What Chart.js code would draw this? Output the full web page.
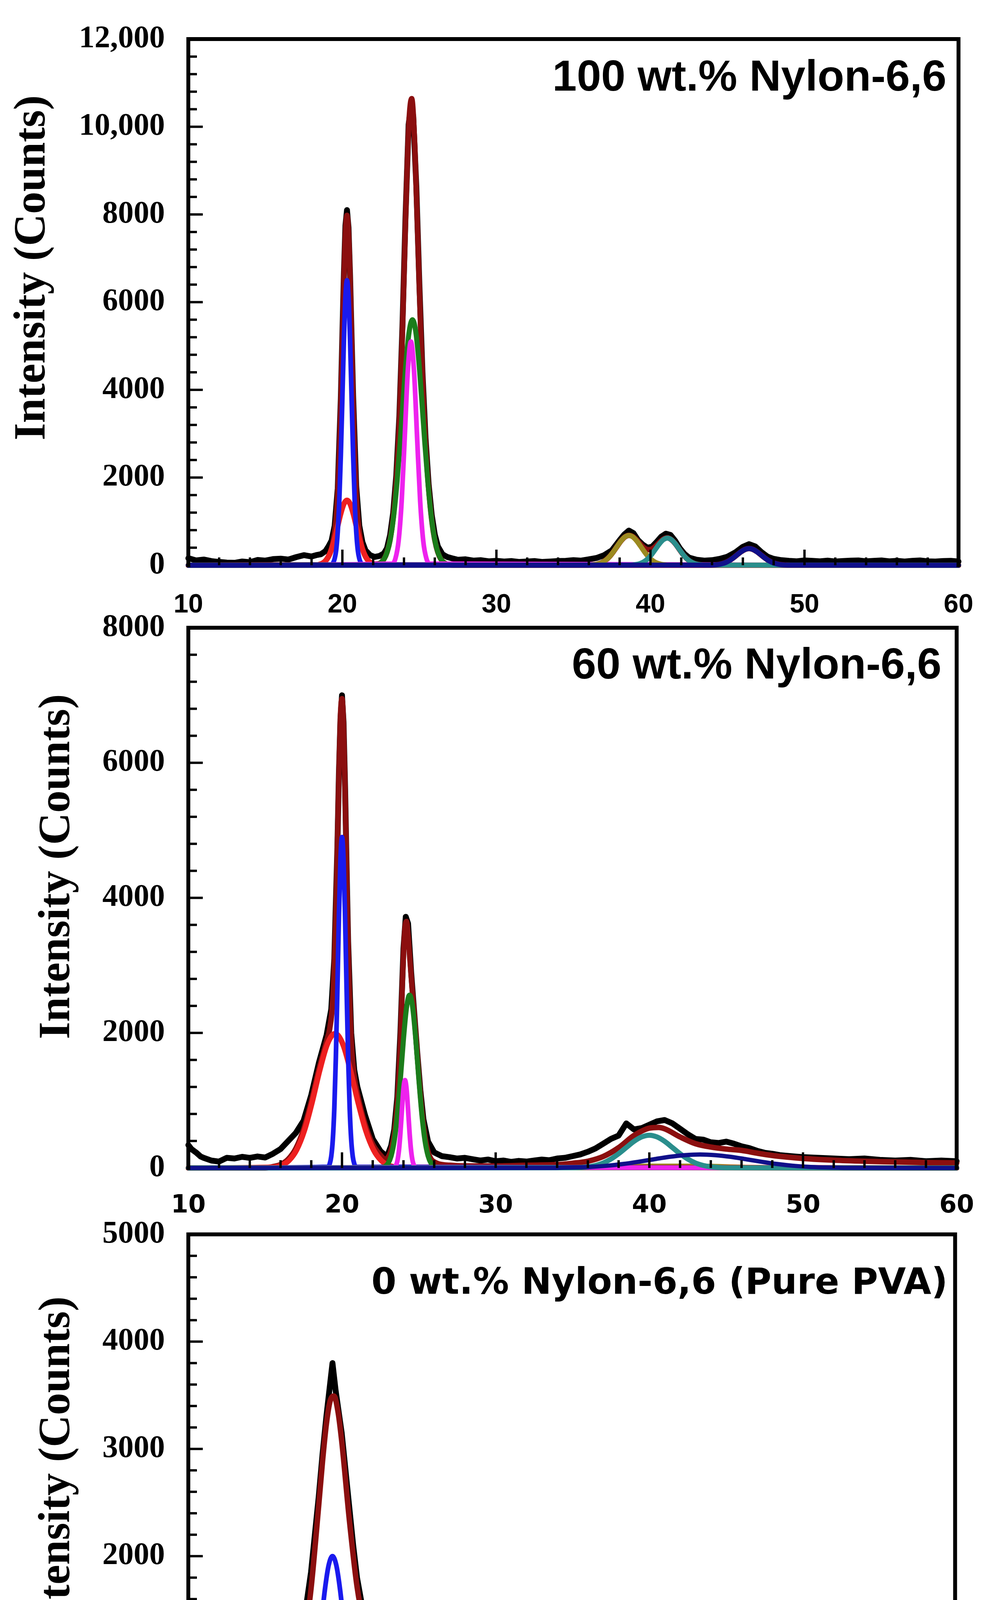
<!DOCTYPE html>
<html>
<head>
<meta charset="utf-8">
<script src="https://cdn.jsdelivr.net/npm/chart.js@4.4.1/dist/chart.umd.min.js"></script>
<style>
  body { margin: 0; background: #fff; }
  #page { position: relative; width: 2544px; height: 4888px; background: #fff; overflow: hidden; }
  #page canvas { position: absolute; left: 0; }
</style>
</head>
<body>
<div id="page">
  <canvas id="panel1" width="2544" height="1660" style="top:0px"></canvas>
  <canvas id="panel2" width="2544" height="1660" style="top:1500px"></canvas>
  <canvas id="panel3" width="2544" height="1828" style="top:3060px"></canvas>
</div>
<script>
// axis ticks and titles
var angleTicks = [10, 20, 30, 40, 50, 60];
var p1CountTicks = [0, 2000, 4000, 6000, 8000, 10000, 12000];
var p2CountTicks = [0, 2000, 4000, 6000, 8000];
var p3CountTicks = [0, 1000, 2000, 3000, 4000, 5000];
var panelTitles = ['100 wt.% Nylon-6,6', '60 wt.% Nylon-6,6', '0 wt.% Nylon-6,6 (Pure PVA)'];
var yAxisTitle = 'Intensity (Counts)';
var xAxisTitle = '2θ (degree)';

// ---- 100 wt.% Nylon-6,6 ----
var p1RawAngle = [10,10.5,11,11.5,12,12.5,13,13.5,14,14.5,15,15.5,16,16.5,17,17.5,18,18.3,18.6,18.9,19.1,19.3,19.5,19.7,19.9,20.0,20.1,20.2,20.3,20.4,20.5,20.6,20.7,20.9,21.1,21.3,21.5,21.8,22.1,22.4,22.7,22.9,23.1,23.3,23.5,23.7,23.9,24.1,24.3,24.45,24.6,24.8,25.0,25.2,25.4,25.6,25.8,26.0,26.2,26.5,26.8,27.2,27.5,28,28.5,29,29.5,30,30.5,31,31.5,32,32.5,33,33.5,34,34.5,35,35.5,36,36.5,37,37.5,38,38.3,38.6,38.9,39.2,39.5,39.8,40.1,40.4,40.7,41.0,41.3,41.6,41.9,42.2,42.5,43,43.5,44,44.5,45,45.5,46,46.4,46.8,47.2,47.6,48,48.5,49,49.5,50,50.5,51,51.5,52,52.5,53,53.5,54,54.5,55,55.5,56,56.5,57,57.5,58,58.5,59,59.5,60];
var p1RawCounts = [160,110,130,95,75,60,55,85,70,120,105,140,150,130,185,230,200,230,250,320,430,560,900,1750,3800,5250,6650,7750,8100,7700,6600,5200,3850,1800,900,530,340,230,190,210,270,390,690,1200,2050,3400,5450,7950,10050,10450,10250,8650,6400,4400,2900,1850,1150,700,430,250,190,150,125,135,105,115,90,100,85,95,75,85,95,75,85,95,100,115,105,135,165,230,340,570,700,790,730,570,470,400,420,530,650,720,690,560,390,260,175,125,105,115,145,195,290,420,480,430,300,195,145,115,100,90,110,100,90,105,85,95,105,110,90,100,110,90,100,85,100,110,90,85,95,100,85];
var p1FitAngle = [10,18.3,18.5,18.7,18.9,19.1,19.2,19.3,19.4,19.5,19.6,19.7,19.8,19.9,20.0,20.1,20.2,20.3,20.4,20.5,20.6,20.7,20.8,20.9,21.0,21.1,21.2,21.3,21.4,21.5,21.7,21.9,22.1,22.3,22.5,22.7,22.9,23.1,23.3,23.5,23.7,23.9,24.1,24.3,24.5,24.7,24.9,25.1,25.3,25.5,25.7,25.9,26.1,26.3,26.5,26.7,26.9,27.2,35.8,36.1,36.35,36.6,36.85,37.1,37.35,37.6,37.85,38.1,38.35,38.6,38.85,39.1,39.35,39.6,39.85,40.1,40.35,40.6,40.85,41.1,41.35,41.6,41.85,42.1,42.35,42.6,42.85,43.1,43.35,43.6,43.9,44.15,44.4,44.65,44.9,45.15,45.4,45.65,45.9,46.15,46.4,46.65,46.9,47.15,47.4,47.65,47.9,48.15,48.4,48.65,48.9,49.2,60];
var p1FitCounts = [0,6,16,42,97,200,276,385,536,760,1100,1670,2516,3695,5116,6530,7590,7980,7590,6530,5116,3695,2516,1670,1100,760,536,385,276,200,97,42,25,30,60,140,300,586,1086,1926,3293,5336,7840,9952,10641,9572,7431,5215,3452,2224,1365,780,415,204,92,38,14,0,0,5,13,30,62,117,200,311,438,559,648,682,655,577,479,395,354,371,438,527,599,625,586,497,376,254,154,84,41,18,7,2,3,7,17,35,65,112,174,245,312,362,380,362,312,245,174,112,65,35,17,7,3,0,0];
var p1RedAngle = [10,18.3,18.5,18.7,18.9,19.1,19.3,19.5,19.7,19.9,20.1,20.3,20.5,20.7,20.9,21.1,21.3,21.5,21.7,21.9,22.1,22.3,60];
var p1RedCounts = [0,6,16,42,97,200,370,610,900,1185,1400,1480,1400,1185,900,610,370,200,97,42,16,6,0];
var p1BlueAngle = [10,19.3,19.4,19.5,19.6,19.7,19.8,19.9,20.0,20.1,20.2,20.3,20.4,20.5,20.6,20.7,20.8,20.9,21.0,21.1,21.2,21.3,60];
var p1BlueCounts = [0,15,55,150,350,770,1470,2510,3810,5130,6130,6500,6130,5130,3810,2510,1470,770,350,150,55,15,0];
var p1GreenAngle = [10,22.15,22.35,22.55,22.75,22.95,23.15,23.35,23.55,23.75,23.95,24.15,24.35,24.55,24.75,24.95,25.15,25.35,25.55,25.75,25.95,26.15,26.35,26.55,26.75,26.95,60];
var p1GreenCounts = [0,11,30,74,168,352,672,1180,1900,2800,3795,4710,5360,5600,5360,4710,3795,2800,1900,1180,672,352,168,74,30,11,0];
var p1MagentaAngle = [10,23.25,23.45,23.65,23.85,24.05,24.25,24.45,24.65,24.85,25.05,25.25,25.45,25.65,60];
var p1MagentaCounts = [0,35,160,556,1465,2930,4440,5100,4440,2930,1465,556,160,35,0];
var p1OliveAngle = [10,36.1,36.35,36.6,36.85,37.1,37.35,37.6,37.85,38.1,38.35,38.6,38.85,39.1,39.35,39.6,39.85,40.1,40.35,40.6,40.85,41.1,60];
var p1OliveCounts = [0,5,13,30,62,117,200,311,438,559,648,680,648,559,438,311,200,117,62,30,13,5,0];
var p1TealAngle = [10,38.6,38.85,39.1,39.35,39.6,39.85,40.1,40.35,40.6,40.85,41.1,41.35,41.6,41.85,42.1,42.35,42.6,42.85,43.1,43.35,43.6,60];
var p1TealCounts = [0,2,7,18,41,84,154,254,376,497,586,620,586,497,376,254,154,84,41,18,7,2,0];
var p1NavyAngle = [10,43.9,44.15,44.4,44.65,44.9,45.15,45.4,45.65,45.9,46.15,46.4,46.65,46.9,47.15,47.4,47.65,47.9,48.15,48.4,48.65,48.9,60];
var p1NavyCounts = [0,3,7,17,35,65,112,174,245,312,362,380,362,312,245,174,112,65,35,17,7,3,0];

// ---- 60 wt.% Nylon-6,6 ----
var p2RawAngle = [10,10.2,10.5,10.8,11,11.5,12,12.5,13,13.5,14,14.5,15,15.5,16,16.5,17,17.5,18,18.5,19,19.3,19.5,19.7,19.8,19.9,20.0,20.1,20.2,20.3,20.4,20.6,20.8,21.0,21.5,22,22.5,22.8,23.0,23.2,23.4,23.6,23.8,24.0,24.15,24.3,24.5,24.7,24.9,25.1,25.3,25.6,26,26.5,27,27.5,28,28.5,29,29.5,30,30.5,31,31.5,32,32.5,33,33.5,34,34.5,35,35.5,36,36.5,37,37.5,38,38.5,39,39.5,40,40.5,41,41.5,42,42.5,43,43.5,44,44.5,45,45.5,46,46.5,47,47.5,48,48.5,49,49.5,50,51,52,53,54,55,56,57,58,59,60];
var p2RawCounts = [340,280,230,170,150,110,95,150,140,165,150,170,155,210,280,400,520,700,1080,1560,1970,2350,3100,4750,5850,6650,7000,6600,5650,4450,3350,2000,1450,1200,780,430,250,190,210,330,570,1050,2000,3250,3720,3620,2900,2300,1700,1150,720,390,230,175,160,140,150,130,110,125,100,110,90,105,95,110,125,115,140,150,175,200,240,290,360,430,480,660,570,590,640,690,710,660,580,500,430,420,380,370,390,360,320,295,255,225,210,190,180,170,160,150,140,130,140,120,110,120,100,110,100];
var p2FitAngle = [10,15,15.5,16,16.5,17,17.5,18,18.5,19,19.2,19.4,19.6,19.7,19.8,19.9,20.0,20.1,20.2,20.3,20.4,20.6,20.8,21.0,21.5,22.0,22.5,22.8,23.0,23.2,23.4,23.6,23.8,23.9,24.0,24.1,24.2,24.3,24.4,24.6,24.8,25.0,25.2,25.4,25.6,25.8,26.0,26.3,27,28,30,32,34,35,36,37,38,39,40,40.6,41,42,43,44,45,46,47,48,49,50,52,54,56,58,60];
var p2FitCounts = [0,0,20,50,130,290,570,980,1460,1880,2060,2500,3750,4780,5850,6700,6950,6560,5600,4420,3300,1900,1350,1100,650,350,190,130,160,270,500,970,1900,2550,3170,3560,3650,3460,3150,2550,1990,1380,850,460,240,130,90,60,40,30,30,40,50,70,100,170,300,480,590,600,580,460,360,310,280,260,220,185,160,140,115,100,90,80,75];
var p2RedAngle = [10,15.55,16.05,16.55,17.05,17.55,18.05,18.55,19.05,19.55,20.05,20.55,21.05,21.55,22.05,22.55,23.05,23.55,60];
var p2RedCounts = [0,12,39,111,269,553,968,1445,1837,1990,1837,1445,968,553,269,111,39,12,0];
var p2BlueAngle = [10,19.1,19.2,19.3,19.4,19.5,19.6,19.7,19.8,19.9,20.0,20.1,20.2,20.3,20.4,20.5,20.6,20.7,20.8,20.9,60];
var p2BlueCounts = [0,18,61,170,414,882,1633,2644,3722,4575,4900,4575,3722,2644,1633,882,414,170,61,18,0];
var p2GreenAngle = [10,22.6,22.8,23.0,23.2,23.4,23.6,23.8,24.0,24.2,24.4,24.6,24.8,25.0,25.2,25.4,25.6,25.8,26.0,26.2,60];
var p2GreenCounts = [0,6,23,68,179,403,785,1315,1906,2377,2560,2377,1906,1315,785,403,179,68,23,6,0];
var p2MagentaAngle = [10,23.4,23.5,23.6,23.7,23.8,23.9,24.0,24.1,24.2,24.3,24.4,24.5,24.6,24.7,24.8,60];
var p2MagentaCounts = [0,8,31,98,249,513,860,1172,1300,1172,860,513,249,98,31,8,0];
var p2OliveAngle = [10,34,37,40,43,46,50,60];
var p2OliveCounts = [0,0,15,30,30,15,0,0];
var p2TealAngle = [10,35,35.5,36,36.5,37,37.5,38,38.5,39,39.5,40,40.5,41,41.5,42,42.5,43,43.5,44,44.5,45,60];
var p2TealCounts = [0,3,7,17,38,74,132,211,303,394,460,485,460,394,303,211,132,74,38,17,7,3,0];
var p2NavyAngle = [10,33.3,34.3,35.3,36.3,37.3,38.3,39.3,40.3,41.3,42.3,43.3,44.3,45.3,46.3,47.3,48.3,49.3,50.3,51.3,52.3,53.3,60];
var p2NavyCounts = [0,1,4,9,18,34,59,92,129,165,190,200,190,165,129,92,59,34,18,9,4,1,0];

// ---- 0 wt.% Nylon-6,6 (pure PVA) ----
var p3RawAngle = [10,10.25,10.5,10.75,11,11.25,11.5,12,12.5,13,13.5,14,14.5,15,15.5,16,16.5,17,17.5,18,18.5,18.75,19.0,19.2,19.4,19.6,19.8,20.0,20.25,20.5,20.75,21.0,21.25,21.5,22.0,22.5,23.0,23.5,24.0,24.5,25.0,25.5,26.0,26.5,27,27.5,28,28.5,29,29.5,30,30.5,31,31.5,32,32.5,33,33.5,34,34.5,35,35.5,36,36.5,37,37.5,38,38.5,39,39.5,40,40.5,41,41.5,42,42.5,43,43.5,44,44.5,45,45.5,46,46.5,47,47.5,48,48.5,49,49.5,50,50.5,51,51.5,52,52.5,53,53.5,54,54.5,55,55.5,56,56.5,57,57.5,58,58.5,59,59.5,60];
var p3RawCounts = [150,130,170,120,140,100,120,110,130,150,170,220,200,330,430,580,780,1000,1350,1850,2550,2950,3300,3550,3800,3550,3350,3150,2800,2450,2100,1800,1600,1400,1180,980,800,650,520,400,300,240,200,170,150,160,130,140,120,130,110,130,110,140,120,130,150,110,120,100,110,130,150,140,190,200,250,300,330,380,470,520,550,540,480,430,380,330,280,240,210,180,150,160,130,120,110,120,100,110,100,120,110,120,100,110,130,120,110,130,120,100,120,110,130,110,100,120,110,100,110];
var p3FitAngle = [10,11,12,13,14,15,15.5,16,16.5,17,17.5,18,18.5,18.75,19.0,19.25,19.5,19.75,20.0,20.5,21.0,21.5,22.0,22.5,23,23.5,24,24.5,25,26,27,28,29,30,35,35.5,36,36.5,37,37.5,38,38.5,39,39.5,40,40.5,41,41.5,42,42.5,43,43.5,44,44.5,45,45.5,46,46.5,47,47.5,48,60];
var p3FitCounts = [0,5,16,47,121,267,375,508,669,871,1174,1695,2470,2883,3231,3449,3492,3356,3076,2339,1718,1337,1099,905,730,567,426,307,213,93,35,11,3,0,2,4,9,17,31,53,84,127,179,237,294,344,378,390,378,344,294,237,179,127,84,53,31,17,9,4,2,0];
var p3RedAngle = [10,11.35,11.85,12.35,12.85,13.35,13.85,14.35,14.85,15.35,15.85,16.35,16.85,17.35,17.85,18.35,18.85,19.35,19.85,20.35,20.85,21.35,21.85,22.35,22.85,23.35,23.85,24.35,24.85,25.35,25.85,26.35,26.85,27.35,27.85,28.35,60];
var p3RedCounts = [0,7,13,24,41,67,106,162,239,339,466,614,779,957,1130,1287,1412,1492,1520,1492,1412,1287,1130,957,779,614,466,339,239,162,106,67,41,24,13,7,0];
var p3BlueAngle = [10,16.65,16.9,17.15,17.4,17.65,17.9,18.15,18.4,18.65,18.9,19.15,19.4,19.65,19.9,20.15,20.4,20.65,20.9,21.15,21.4,21.65,21.9,22.15,60];
var p3BlueCounts = [0,11,26,60,126,240,421,678,1001,1355,1682,1915,2000,1915,1682,1355,1001,678,421,240,126,60,26,11,0];
var p3TealAngle = [10,35,35.5,36,36.5,37,37.5,38,38.5,39,39.5,40,40.5,41,41.5,42,42.5,43,43.5,44,44.5,45,45.5,46,46.5,47,47.5,48,60];
var p3TealCounts = [0,2,4,9,17,31,53,84,127,179,237,294,344,378,390,378,344,294,237,179,127,84,53,31,17,9,4,2,0];

var colors = {
    raw: '#000000', fit: '#8b0f0f', red: '#ee2020', blue: '#1a1aee', green: '#1b7d1b',
    magenta: '#ee22ee', olive: '#9c8a20', teal: '#2a8e8c', navy: '#10108a'
};

function toPoints(xs, ys) {
    return xs.map(function (x, i) { return {x: x, y: ys[i]}; });
}

function line(xs, ys, color, width, smooth) {
    return {
        data: toPoints(xs, ys),
        borderColor: color,
        borderWidth: width,
        borderJoinStyle: 'round',
        borderCapStyle: 'round',
        pointRadius: 0,
        fill: false,
        cubicInterpolationMode: smooth ? 'monotone' : 'default',
        tension: 0,
        clip: 12
    };
}

function countLabel(v) {
    return v >= 10000 ? v.toLocaleString('en-US') : String(v);
}

// frame, inward ticks and the texts placed inside/around each panel
var panelDecor = {
    id: 'panelDecor',
    beforeDatasetsDraw: function (chart) {
        var a = chart.chartArea, c = chart.ctx;
        c.save();
        c.strokeStyle = '#000';
        c.lineWidth = 10;
        c.beginPath(); c.moveTo(a.left, a.bottom); c.lineTo(a.right, a.bottom); c.stroke();
        c.restore();
    },
    afterDatasetsDraw: function (chart, args, o) {
        var a = chart.chartArea, c = chart.ctx, xs = chart.scales.x, ys = chart.scales.y;
        c.save();
        c.strokeStyle = '#000';
        c.lineWidth = 10;
        c.lineCap = 'square';
        c.beginPath();
        c.moveTo(a.left, a.bottom); c.lineTo(a.left, a.top); c.lineTo(a.right, a.top); c.lineTo(a.right, a.bottom);
        c.stroke();
        c.lineCap = 'butt';
        c.lineWidth = 6;
        for (var v = o.yMinor; v < ys.max; v += o.yMinor) {
            var py = ys.getPixelForValue(v);
            var len = (v % o.yMajor === 0) ? 37 : 22;
            c.beginPath(); c.moveTo(a.left, py); c.lineTo(a.left + len, py); c.stroke();
        }
        for (var t = 12; t < 60; t += 2) {
            var px = xs.getPixelForValue(t);
            var l2 = (t % 10 === 0) ? 40 : 20;
            c.beginPath(); c.moveTo(px, a.bottom); c.lineTo(px, a.bottom - l2); c.stroke();
        }
        c.restore();
    },
    afterDraw: function (chart, args, o) {
        var a = chart.chartArea, c = chart.ctx;
        c.save();
        c.fillStyle = '#000';
        c.font = o.titleFont;
        c.textAlign = 'right';
        c.textBaseline = 'alphabetic';
        c.fillText(o.title, a.right - o.titleInset, a.top + o.titleDrop);
        if (o.xTitle) {
            c.font = 'bold 106px "Liberation Serif", "Times New Roman", serif';
            c.textAlign = 'center';
            c.fillText(o.xTitle, (a.left + a.right) / 2, a.bottom + o.xTitleDrop);
        }
        c.font = 'bold 114px "Liberation Serif", "Times New Roman", serif';
        c.translate(o.yTitleX, (a.top + a.bottom) / 2 - o.yTitleLift);
        c.rotate(-Math.PI / 2);
        c.textAlign = 'center';
        c.textBaseline = 'middle';
        c.fillText(yAxisTitle, 0, 0);
        c.restore();
    }
};

function drawPanel(canvasId, p) {
    var ctx = document.getElementById(canvasId).getContext('2d');
    return new Chart(ctx, {
        type: 'line',
        data: {datasets: p.datasets.slice().reverse()}, // first dataset ends up on top
        options: {
            responsive: false,
            animation: false,
            devicePixelRatio: 1,
            layout: {padding: {top: p.top, right: 81, bottom: 0, left: 0}},
            plugins: {legend: {display: false}, tooltip: {enabled: false}, panelDecor: p.decor},
            scales: {
                x: {
                    type: 'linear', min: 10, max: 60,
                    grid: {display: false}, border: {display: false},
                    afterBuildTicks: function (s) { s.ticks = angleTicks.map(function (v) { return {value: v}; }); },
                    afterFit: function (s) { s.height = p.xAxisHeight; },
                    ticks: {color: '#000', padding: p.xTickPad, font: p.xTickFont, maxRotation: 0, autoSkip: false}
                },
                y: {
                    type: 'linear', min: 0, max: p.yTicks[p.yTicks.length - 1],
                    grid: {display: false}, border: {display: false},
                    afterBuildTicks: function (s) { s.ticks = p.yTicks.map(function (v) { return {value: v}; }); },
                    afterFit: function (s) { s.width = 482; },
                    ticks: {color: '#000', padding: 52, callback: countLabel,
                        font: {family: '"Liberation Serif", "Times New Roman", serif', size: 80, weight: 'bold'}}
                }
            }
        },
        plugins: [panelDecor]
    });
}

var sansTick = {family: '"Liberation Sans", Arial, sans-serif', size: 68, weight: 'bold'};
var wideTick = {family: '"DejaVu Sans", Verdana, sans-serif', size: 64, weight: 'bold'};

drawPanel('panel1', {
    top: 62, xAxisHeight: 213, xTickPad: 53, xTickFont: sansTick, yTicks: p1CountTicks,
    decor: {title: panelTitles[0], titleFont: 'bold 112px "Liberation Sans", Arial, sans-serif',
        titleInset: 31, titleDrop: 132, yTitleX: 85, yTitleLift: 88, yMajor: 2000, yMinor: 400, xTitle: ''},
    datasets: [
        line(p1RawAngle, p1RawCounts, colors.raw, 15, false),
        line(p1FitAngle, p1FitCounts, colors.fit, 14, true),
        line(p1RedAngle, p1RedCounts, colors.red, 14, true),
        line(p1BlueAngle, p1BlueCounts, colors.blue, 12, true),
        line(p1GreenAngle, p1GreenCounts, colors.green, 13, true),
        line(p1MagentaAngle, p1MagentaCounts, colors.magenta, 12, true),
        line(p1OliveAngle, p1OliveCounts, colors.olive, 13, true),
        line(p1TealAngle, p1TealCounts, colors.teal, 13, true),
        line(p1NavyAngle, p1NavyCounts, colors.navy, 13, true)
    ]
});

drawPanel('panel2', {
    top: 107, xAxisHeight: 170, xTickPad: 51, xTickFont: wideTick, yTicks: p2CountTicks,
    decor: {title: panelTitles[1], titleFont: 'bold 112px "Liberation Sans", Arial, sans-serif',
        titleInset: 39, titleDrop: 130, yTitleX: 148, yTitleLift: 80, yMajor: 2000, yMinor: 400, xTitle: ''},
    datasets: [
        line(p2RawAngle, p2RawCounts, colors.raw, 15, false),
        line(p2FitAngle, p2FitCounts, colors.fit, 14, true),
        line(p2OliveAngle, p2OliveCounts, colors.olive, 12, true),
        line(p2RedAngle, p2RedCounts, colors.red, 14, true),
        line(p2BlueAngle, p2BlueCounts, colors.blue, 12, true),
        line(p2GreenAngle, p2GreenCounts, colors.green, 13, true),
        line(p2MagentaAngle, p2MagentaCounts, colors.magenta, 12, true),
        line(p2TealAngle, p2TealCounts, colors.teal, 13, true),
        line(p2NavyAngle, p2NavyCounts, colors.navy, 11, true)
    ]
});

drawPanel('panel3', {
    top: 90, xAxisHeight: 355, xTickPad: 55, xTickFont: wideTick, yTicks: p3CountTicks,
    decor: {title: panelTitles[2], titleFont: 'bold 92px "DejaVu Sans", Verdana, sans-serif',
        titleInset: 19, titleDrop: 152, yTitleX: 148, yTitleLift: 86, yMajor: 1000, yMinor: 200,
        xTitle: xAxisTitle, xTitleDrop: 307},
    datasets: [
        line(p3RawAngle, p3RawCounts, colors.raw, 15, false),
        line(p3FitAngle, p3FitCounts, colors.fit, 14, true),
        line(p3RedAngle, p3RedCounts, colors.red, 14, true),
        line(p3BlueAngle, p3BlueCounts, colors.blue, 12, true),
        line(p3TealAngle, p3TealCounts, colors.teal, 13, true)
    ]
});
</script>
</body>
</html>
